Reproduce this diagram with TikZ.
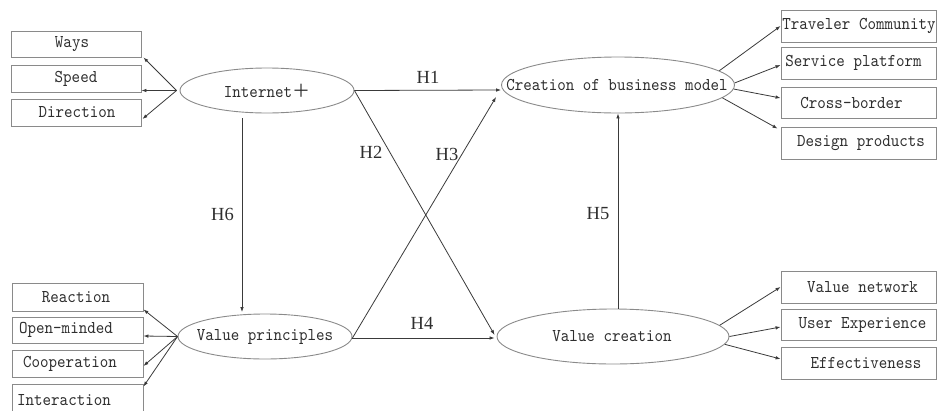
\documentclass[tikz,border=0pt]{standalone}
\usepackage{fontspec}
\usetikzlibrary{shapes.geometric,arrows.meta,calc}
\newfontfamily\monof{lmmono10-regular}[Extension=.otf,FakeStretch=0.9]
\newfontfamily\serf{Liberation Serif}
\newfontfamily\cjk{Noto Sans CJK SC}
\definecolor{boxc}{HTML}{8A8A8A}
\definecolor{linec}{HTML}{3A3A3A}
\definecolor{txtc}{HTML}{2E2E2E}
\begin{document}
\begin{tikzpicture}[x=1pt,y=-1pt,
  boxL/.style={draw=boxc,line width=0.9pt,rectangle,minimum width=130pt,inner sep=0pt},
  boxR/.style={draw=boxc,line width=0.9pt,rectangle,minimum width=155pt,inner sep=0pt},
  ell/.style={draw=boxc,line width=0.9pt,ellipse,inner sep=0pt},
  txt/.style={inner sep=0pt,text=txtc,font=\monof\fontsize{18}{20}\selectfont},
  hlab/.style={inner sep=0pt,text=txtc,font=\serf\fontsize{18.5}{20}\selectfont},
  arr/.style={draw=linec,line width=0.8pt,-{Latex[length=5pt,width=3.6pt]}},
  ln/.style={draw=linec,line width=0.8pt}]
\useasboundingbox (0,0) rectangle (937,410);
\begin{scope}
\clip (0,0) rectangle (937,410);
% ellipses
\node[ell,minimum width=174pt,minimum height=45pt] (inet) at (267,90.5) {};
\node[txt] (inett) at (267,90.5) {Internet{\cjk ＋}};
\node[ell,minimum width=233pt,minimum height=56pt] (cbm) at (618,85) {};
\node[txt] (cbmt) at (617,85) {Creation of business model};
\node[ell,minimum width=174pt,minimum height=45pt] (vp) at (265,336.5) {};
\node[txt] (vpt) at (265,336.5) {Value principles};
\node[ell,minimum width=232pt,minimum height=55pt] (vc) at (613,336.5) {};
\node[txt] (vct) at (612,336.5) {Value creation};
% left boxes top
\node[boxL,minimum height=26pt] (ways) at (76,44) {};
\node[txt] (wayst) at (72,44) {Ways};
\node[boxL,minimum height=27pt] (speed) at (76,78.5) {};
\node[txt] (speedt) at (76,78.5) {Speed};
\node[boxL,minimum height=27pt] (dir) at (76,112.5) {};
\node[txt] (dirt) at (77,112.5) {Direction};
% left boxes bottom
\node[boxL,minimum width=131pt,minimum height=28pt] (reac) at (77.5,297) {};
\node[txt] (react) at (76,297) {Reaction};
\node[boxL,minimum width=131pt,minimum height=26pt] (open) at (77.5,330) {};
\node[txt] (opent) at (66,330) {Open-minded};
\node[boxL,minimum width=131pt,minimum height=27pt] (coop) at (77.5,363.5) {};
\node[txt] (coopt) at (70,363.5) {Cooperation};
\node[boxL,minimum width=131pt,minimum height=27pt] (inter) at (77.5,397.5) {};
\node[txt] (intert) at (64,400) {Interaction};
% right boxes top
\node[boxR,minimum height=32pt] (trav) at (858.5,26) {};
\node[txt] (travt) at (859,26) {Traveler Community};
\node[boxR,minimum height=32pt] (serv) at (858.5,63) {};
\node[txt] (servt) at (853.5,63) {Service platform};
\node[boxR,minimum height=31pt] (cross) at (858.5,102.5) {};
\node[txt] (crosst) at (851.5,102.5) {Cross-border};
\node[boxR,minimum height=32pt] (design) at (858.5,143) {};
\node[txt] (designt) at (861,143) {Design products};
% right boxes bottom
\node[boxR,minimum height=32pt] (vnet) at (858.5,287) {};
\node[txt] (vnett) at (862.5,287) {Value network};
\node[boxR,minimum height=31pt] (ux) at (858.5,324.5) {};
\node[txt] (uxt) at (862.5,324.5) {User Experience};
\node[boxR,minimum height=32pt] (eff) at (858.5,363) {};
\node[txt] (efft) at (866,363) {Effectiveness};
% arrows from Internet+
\draw[arr] ([xshift=-3pt]inet.west) -- ([xshift=2pt]ways.south east);
\draw[arr] ([xshift=-3pt]inet.west) -- (speed.east |- inet.west);
\draw[arr] ([xshift=-3pt]inet.west) -- ([xshift=1pt,yshift=-6.5pt]dir.east);
% arrows from Value principles
\draw[arr] (vp.west) -- ([yshift=2pt]reac.south east);
\draw[arr] (vp.west) -- ([yshift=-6pt]open.east);
\draw[arr] (vp.west) -- ([yshift=-2.5pt]coop.east);
\draw[arr] (vp.west) -- ([yshift=-3pt]inter.north east);
% arrows from Creation of business model
\draw[arr] (cbm.8) -- (trav.west);
\draw[arr] (cbm.1.5) -- ([yshift=-2pt]serv.west);
\draw[arr] (cbm.-2) -- ([yshift=4.5pt]cross.west);
\draw[arr] (cbm.-7) -- ([xshift=-3pt,yshift=-2pt]design.north west);
% arrows from Value creation
\draw[arr] (vc.6.6) -- (vnet.west);
\draw[arr] (vc.0) -- ([yshift=-2.5pt]ux.west);
\draw[arr] (vc.-4.8) -- ([yshift=4pt]eff.west);
% hypotheses
\draw[arr] (inet.east) -- ([yshift=-5pt]cbm.west);
\draw[arr] (inet.east) -- ([xshift=-2pt,yshift=1.5pt]vc.west);
\draw[arr] ([yshift=-1.5pt]vp.east) -- ([xshift=-5pt,yshift=-12pt]cbm.west);
\draw[arr] ([yshift=-1.5pt]vp.east) -- ([xshift=-2pt,yshift=-1.5pt]vc.west);
\draw[arr] (vc.north -| cbm.south) -- (cbm.south);
\draw[arr] ([xshift=-25pt,yshift=-5pt]inet.south) -- ([xshift=-23pt,yshift=1.5pt]vp.north);
\node[hlab] (h1) at (428,77) {H1};
\node[hlab] (h2) at (371,152) {H2};
\node[hlab] (h3) at (447,154.5) {H3};
\node[hlab] (h4) at (422,323.5) {H4};
\node[hlab] (h5) at (598,214) {H5};
\node[hlab] (h6) at (222.5,214) {H6};
\end{scope}
\end{tikzpicture}
\end{document}
